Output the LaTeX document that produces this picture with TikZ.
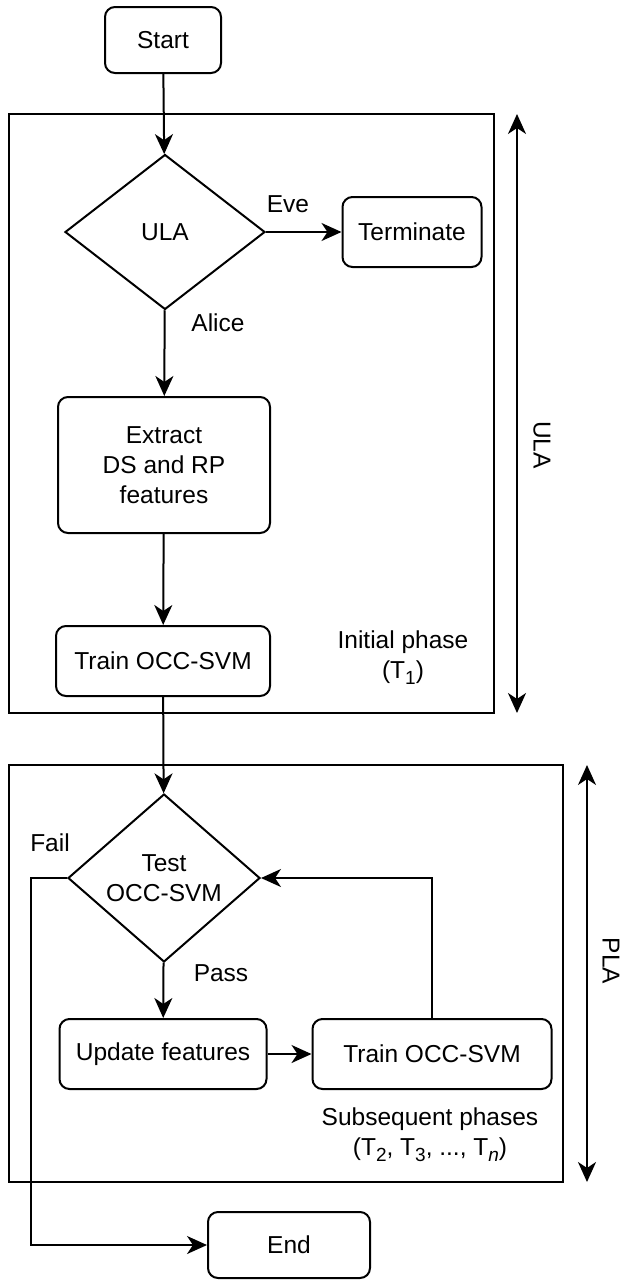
\documentclass[tikz,border=0pt]{standalone}
\usepackage{fontspec}
\setmainfont{Liberation Sans}
\usetikzlibrary{shapes.geometric,arrows.meta}
\newcommand\mysubs[1]{\raisebox{-0.45ex}{\fontsize{19}{19}\selectfont #1}}
\begin{document}
\begin{tikzpicture}[x=1pt,y=-1pt,
  every node/.style={font=\fontsize{24.5}{30}\selectfont, text=black},
  box/.style={draw, line width=2pt, rounded corners=10pt, align=center, inner sep=0pt},
  dia/.style={draw, diamond, line width=2pt, align=center, inner sep=0pt},
  frame/.style={draw, line width=2pt},
  tipa/.style={},
  arr/.style={line width=2pt, -{Stealth[length=20pt,width=18pt,inset=6pt]}},
  darr/.style={line width=2pt, {Stealth[length=20pt,width=18pt,inset=6pt]}-{Stealth[length=20pt,width=18pt,inset=6pt]}},
  lbl/.style={inner sep=0pt, align=center}
]
\useasboundingbox (0,0) rectangle (621,1280);
% frames
\draw[frame] (9,114) rectangle (494,713);
\draw[frame] (9,765) rectangle (563,1182);
% nodes
\node[box, minimum width=116pt, minimum height=66pt] (start) at (163,40) {Start};
\node[dia, minimum width=200pt, minimum height=155pt] (ula) at (165,232) {ULA};
\node[box, minimum width=139pt, minimum height=70pt] (term) at (412,232) {Terminate};
\node[box, minimum width=212pt, minimum height=136pt] (extract) at (164,465) {Extract\\DS and RP\\features};
\node[box, minimum width=214pt, minimum height=70pt] (train1) at (163,661) {Train OCC-SVM};
\node[dia, minimum width=192pt, minimum height=168pt] (test) at (164,878) {Test\\OCC-SVM};
\node[box, minimum width=207pt, minimum height=70pt] (update) at (163,1054) {Update features};
\node[box, minimum width=239pt, minimum height=70pt] (train2) at (432,1054) {Train OCC-SVM};
\node[box, minimum width=162pt, minimum height=66pt] (end) at (289,1245) {End};
% labels
\node[lbl] (eve) at (288,204) {Eve};
\node[lbl] (alice) at (218,323) {Alice};
\node[lbl] (init) at (403,658) {Initial phase\\(T\mysubs{1})};
\node[lbl] (fail) at (50,843) {Fail};
\node[lbl] (pass) at (221,973) {Pass};
\node[lbl] (subs) at (430,1135) {Subsequent phases\\(T\mysubs{2}, T\mysubs{3}, ..., T\mysubs{\textit{n}})};
\node[lbl, rotate=-90] (ulalbl) at (542,445) {ULA};
\node[lbl, rotate=-90] (plalbl) at (611,961) {PLA};
% side arrows
\coordinate (u1) at (517,114);
\coordinate (u2) at (517,713);
\coordinate (p1) at (587,765);
\coordinate (p2) at (587,1182);
\draw[darr] (u1) -- (u2);
\draw[darr] (p1) -- (p2);
% connectors
\draw[arr] (start) -- (ula);
\draw[arr] (ula) -- (term);
\draw[arr] (ula) -- (extract);
\draw[arr] (extract) -- (train1);
\draw[arr] (train1) -- (test);
\draw[arr] (test) -- (update);
\draw[arr] (update) -- (train2);
\draw[arr] (train2.north) |- (test.east);
\coordinate (fx) at (31,0);
\draw[arr] (test.west) -- (test.west -| fx) |- (end.west);
\end{tikzpicture}
\end{document}
